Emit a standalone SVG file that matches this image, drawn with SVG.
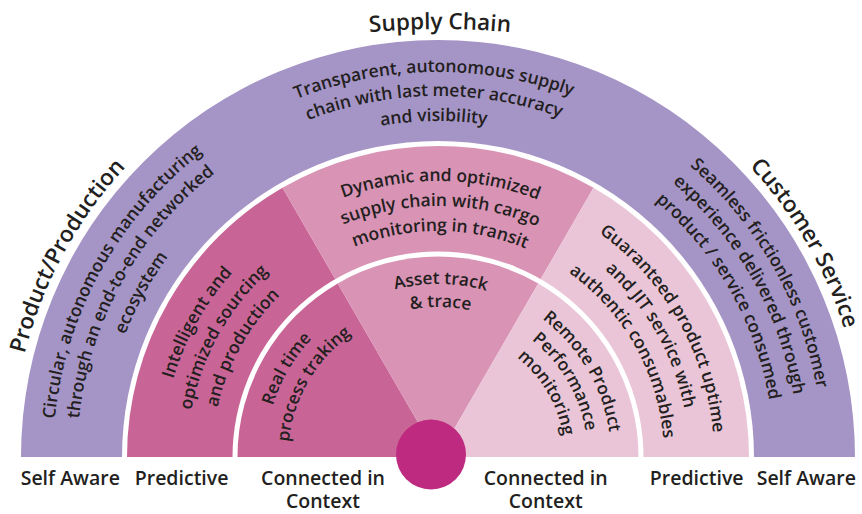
<svg xmlns="http://www.w3.org/2000/svg" width="862" height="514" viewBox="0 0 862 514">
<style>
.t{font-family:"Open Sans","Liberation Sans",sans-serif;font-weight:600;fill:#231f20}
.band{font-size:17.5px}
.mid{font-size:17.5px}
.inn{font-size:17.3px}
.head{font-size:22.5px}
.lab{font-size:19.5px;text-anchor:middle}
</style>
<defs>
<path id="r426" d="M 12,457 A 426 426 0 0 1 864,457"/>
<path id="r385" d="M 53,457 A 385 385 0 0 1 823,457"/>
<path id="r361" d="M 77,457 A 361 361 0 0 1 799,457"/>
<path id="r336" d="M 102,457 A 336 336 0 0 1 774,457"/>
<path id="r276" d="M 162,457 A 276 276 0 0 1 714,457"/>
<path id="r251" d="M 187,457 A 251 251 0 0 1 689,457"/>
<path id="r226" d="M 212,457 A 226 226 0 0 1 664,457"/>
<path id="r173" d="M 265,457 A 173 173 0 0 1 611,457"/>
<path id="r150" d="M 288,457 A 150 150 0 0 1 588,457"/>
<path id="r127" d="M 311,457 A 127 127 0 0 1 565,457"/>
<path id="rsc" d="M -310,779 A 750 750 0 0 1 1190,779"/>
</defs>

<g id="outer-ring">
<path d="M 21,457 A 417 417 0 0 1 855,457 Z" fill="#a594c6"/>
<path d="M 122,457 A 316 316 0 0 1 754,457 Z" fill="#ffffff"/>
</g>

<g id="middle-ring">
<path d="M 438,457 L 127,457 A 311 311 0 0 1 282.5,187.7 Z" fill="#c96596"/>
<path d="M 438,457 L 282.5,187.7 A 311 311 0 0 1 593.5,187.7 Z" fill="#d993b5"/>
<path d="M 438,457 L 593.5,187.7 A 311 311 0 0 1 749,457 Z" fill="#e9c5d7"/>
<path d="M 232.5,457 A 205.5 205.5 0 0 1 643.5,457 Z" fill="#ffffff"/>
</g>

<g id="inner-ring">
<path d="M 438,457 L 237.5,457 A 200.5 200.5 0 0 1 337.75,283.4 Z" fill="#c96596"/>
<path d="M 438,457 L 337.75,283.4 A 200.5 200.5 0 0 1 538.25,283.4 Z" fill="#d993b5"/>
<path d="M 438,457 L 538.25,283.4 A 200.5 200.5 0 0 1 638.5,457 Z" fill="#e9c5d7"/>
</g>

<g id="center-node">
<circle cx="431" cy="454.5" r="35" fill="#be2a80"/>
</g>

<g id="headings">
<text class="t head" text-anchor="middle"><textPath href="#rsc" startOffset="50%">Supply Chain</textPath></text>
<text class="t head" text-anchor="middle"><textPath href="#r426" startOffset="15.8%">Product/Production</textPath></text>
<text class="t head" text-anchor="middle"><textPath href="#r426" startOffset="83.2%">Customer Service</textPath></text>
</g>

<g id="outer-texts">
<text class="t band" text-anchor="middle"><textPath href="#r385" startOffset="49.65%">Transparent, autonomous supply</textPath></text>
<text class="t band" text-anchor="middle"><textPath href="#r361" startOffset="49.65%">chain with last meter accuracy</textPath></text>
<text class="t band" text-anchor="middle"><textPath href="#r336" startOffset="49.6%">and visibility</textPath></text>

<text class="t band" text-anchor="middle"><textPath href="#r385" startOffset="16.1%">Circular, autonomous manufacturing</textPath></text>
<text class="t band" text-anchor="middle"><textPath href="#r361" startOffset="16.1%">through an end-to-end networked</textPath></text>
<text class="t band" text-anchor="middle"><textPath href="#r336" startOffset="16.1%">ecosystem</textPath></text>

<text class="t band" text-anchor="middle"><textPath href="#r385" startOffset="83.5%">Seamless frictionless customer</textPath></text>
<text class="t band" text-anchor="middle"><textPath href="#r361" startOffset="83.5%">experience delivered through</textPath></text>
<text class="t band" text-anchor="middle"><textPath href="#r336" startOffset="83.5%">product / service consumed</textPath></text>
</g>

<g id="middle-texts">
<text class="t mid" text-anchor="middle"><textPath href="#r276" startOffset="16.2%">Intelligent and</textPath></text>
<text class="t mid" text-anchor="middle"><textPath href="#r251" startOffset="16.2%">optimized sourcing</textPath></text>
<text class="t mid" text-anchor="middle"><textPath href="#r226" startOffset="16.2%">and production</textPath></text>

<text class="t mid" text-anchor="middle"><textPath href="#r276" startOffset="50.3%">Dynamic and optimized</textPath></text>
<text class="t mid" text-anchor="middle"><textPath href="#r251" startOffset="50.3%">supply chain with cargo</textPath></text>
<text class="t mid" text-anchor="middle"><textPath href="#r226" startOffset="50.3%">monitoring in transit</textPath></text>

<text class="t mid" text-anchor="middle"><textPath href="#r276" startOffset="83.5%">Guaranteed product uptime</textPath></text>
<text class="t mid" text-anchor="middle"><textPath href="#r251" startOffset="83.5%">and JIT service with</textPath></text>
<text class="t mid" text-anchor="middle"><textPath href="#r226" startOffset="83.5%">authentic consumables</textPath></text>
</g>

<g id="inner-texts">
<text class="t inn" text-anchor="middle"><textPath href="#r173" startOffset="16.8%">Real time</textPath></text>
<text class="t inn" text-anchor="middle"><textPath href="#r150" startOffset="16.8%">process traking</textPath></text>

<text class="t inn" text-anchor="middle"><textPath href="#r173" startOffset="50.5%">Asset track</textPath></text>
<text class="t inn" text-anchor="middle"><textPath href="#r150" startOffset="50.5%">&amp; trace</textPath></text>

<text class="t inn" text-anchor="middle"><textPath href="#r173" startOffset="83%">Remote Product</textPath></text>
<text class="t inn" text-anchor="middle"><textPath href="#r150" startOffset="83%">Performance</textPath></text>
<text class="t inn" text-anchor="middle"><textPath href="#r127" startOffset="83%">monitoring</textPath></text>
</g>

<g id="bottom-labels">
<text class="t lab" x="70.3" y="485">Self Aware</text>
<text class="t lab" x="181.6" y="485">Predictive</text>
<text class="t lab" x="323" y="485">Connected in</text>
<text class="t lab" x="323" y="508">Context</text>
<text class="t lab" x="545.7" y="485">Connected in</text>
<text class="t lab" x="545.7" y="508">Context</text>
<text class="t lab" x="696.7" y="485">Predictive</text>
<text class="t lab" x="806.3" y="485">Self Aware</text>
</g>
</svg>
